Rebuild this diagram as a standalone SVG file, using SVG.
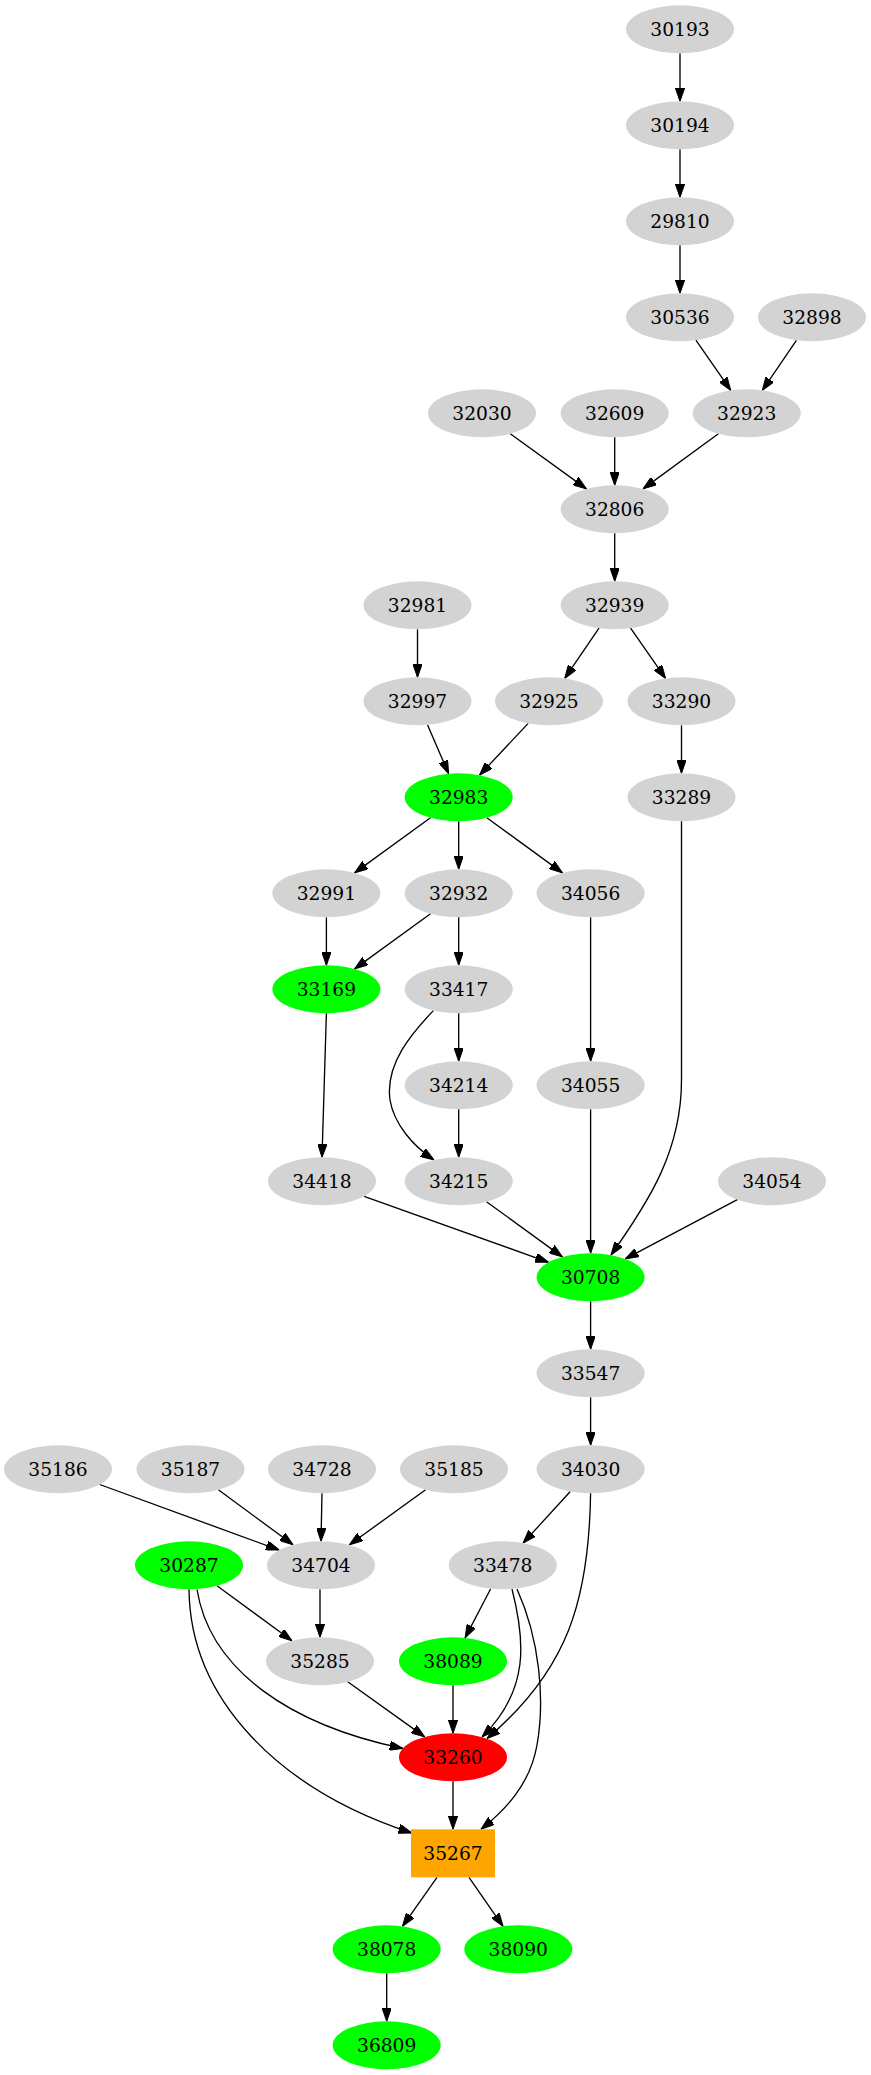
<svg xmlns="http://www.w3.org/2000/svg" width="871" height="2075" viewBox="0 0 871 2075">
<style>
.n ellipse{fill:#d3d3d3;stroke:none}
.g ellipse{fill:#00ff00}
.r ellipse{fill:#ff0000}
.o rect{fill:#ffa500;stroke:none}
text{font-family:"DejaVu Serif","Liberation Serif",serif;font-size:18.67px;text-anchor:middle;fill:#000}
#edges path{fill:none;stroke:#000;stroke-width:1.33;marker-end:url(#ah)}
</style>
<defs>
<marker id="ah" viewBox="0 0 13.3 9.33" refX="13.3" refY="4.67" markerWidth="13.3" markerHeight="9.33" markerUnits="userSpaceOnUse" orient="auto">
<path d="M0,0 L13.3,4.67 L0,9.33 z" fill="#000" stroke="#000" stroke-width="1"/>
</marker>
</defs>
<rect width="871" height="2075" fill="#fff"/>
<g id="edges">
<path d="M680,53.3 L680,101.3"/>
<path d="M680,149.3 L680,197.3"/>
<path d="M680,245.3 L680,293.3"/>
<path d="M695.9,340.2 L730.8,390.4"/>
<path d="M796.4,340.3 L762.3,390.4"/>
<path d="M510.3,433.7 L586.4,488.9"/>
<path d="M614.7,437.3 L614.7,485.3"/>
<path d="M718.4,433.7 L643,488.9"/>
<path d="M614.7,533.3 L614.7,581.3"/>
<path d="M417.5,629.3 L417.5,677.3"/>
<path d="M599,628.2 L564.7,678.4"/>
<path d="M630.6,628.2 L665.6,678.4"/>
<path d="M427.6,724.9 L448.6,773.7"/>
<path d="M528.2,723.4 L479.5,775.2"/>
<path d="M681.5,725.3 L681.5,773.3"/>
<path d="M430.5,817.7 L354.6,872.9"/>
<path d="M458.7,821.3 L458.7,869.3"/>
<path d="M486.8,817.7 L562.5,872.9"/>
<path d="M326.4,917.3 L326.4,965.3"/>
<path d="M430.5,913.7 L354.6,968.9"/>
<path d="M458.7,917.3 L458.7,965.3"/>
<path d="M590.6,917.3 L590.6,1061.3"/>
<path d="M326.4,1013.3 L322,1157.3"/>
<path d="M458.7,1013.3 L458.7,1061.3"/>
<path d="M433.4,1010.6 C412,1033 385,1064 390,1100 C394,1124 413,1146 434,1160"/>
<path d="M458.7,1109.3 L458.7,1157.3"/>
<path d="M590.6,1109.3 L590.6,1253.3"/>
<path d="M681.5,821.3 L681.5,1080 C681.5,1150 650,1200 611,1255"/>
<path d="M364.1,1196.3 L548.5,1262.3"/>
<path d="M486.5,1201.7 L562.4,1256.9"/>
<path d="M737.3,1199.7 L625.3,1258.9"/>
<path d="M590.6,1301.3 L590.6,1349.3"/>
<path d="M590.6,1397.3 L590.6,1445.3"/>
<path d="M99.7,1484.5 L279.3,1550.1"/>
<path d="M218.4,1489.8 L293.1,1544.8"/>
<path d="M322,1493.3 L321,1541.3"/>
<path d="M425.6,1489.8 L349.4,1544.8"/>
<path d="M570.3,1491.5 L523.1,1543.1"/>
<path d="M590.6,1493.3 C589,1600 568,1670 487,1738.5"/>
<path d="M490.7,1588.7 L465.1,1637.9"/>
<path d="M512,1589 C525,1640 530,1690 482,1737"/>
<path d="M517,1589 C540,1640 545,1700 537,1745 C530,1785 505,1810 481,1829.3"/>
<path d="M453,1685.3 L453,1733.3"/>
<path d="M347.7,1681.7 L424.7,1736.9"/>
<path d="M320,1589.3 L320,1637.3"/>
<path d="M217,1585.8 L292,1640.8"/>
<path d="M197,1589.5 C210,1670 290,1725 403,1748.5"/>
<path d="M189,1589.3 C190,1700 280,1790 411.7,1833"/>
<path d="M453,1781.3 L453,1829.3"/>
<path d="M437,1877.3 L402.5,1926.3"/>
<path d="M469,1877.3 L503,1926.3"/>
<path d="M386.7,1973.3 L386.7,2021.3"/>
</g>
<g id="n30193" class="n"><ellipse cx="680" cy="29.3" rx="54" ry="24"/><text x="680" y="35.8">30193</text></g>
<g id="n30194" class="n"><ellipse cx="680" cy="125.3" rx="54" ry="24"/><text x="680" y="131.8">30194</text></g>
<g id="n29810" class="n"><ellipse cx="680" cy="221.3" rx="54" ry="24"/><text x="680" y="227.8">29810</text></g>
<g id="n30536" class="n"><ellipse cx="680" cy="317.3" rx="54" ry="24"/><text x="680" y="323.8">30536</text></g>
<g id="n32898" class="n"><ellipse cx="812" cy="317.3" rx="54" ry="24"/><text x="812" y="323.8">32898</text></g>
<g id="n32030" class="n"><ellipse cx="482" cy="413.3" rx="54" ry="24"/><text x="482" y="419.8">32030</text></g>
<g id="n32609" class="n"><ellipse cx="614.7" cy="413.3" rx="54" ry="24"/><text x="614.7" y="419.8">32609</text></g>
<g id="n32923" class="n"><ellipse cx="746.7" cy="413.3" rx="54" ry="24"/><text x="746.7" y="419.8">32923</text></g>
<g id="n32806" class="n"><ellipse cx="614.7" cy="509.3" rx="54" ry="24"/><text x="614.7" y="515.8">32806</text></g>
<g id="n32981" class="n"><ellipse cx="417.5" cy="605.3" rx="54" ry="24"/><text x="417.5" y="611.8">32981</text></g>
<g id="n32939" class="n"><ellipse cx="614.7" cy="605.3" rx="54" ry="24"/><text x="614.7" y="611.8">32939</text></g>
<g id="n32997" class="n"><ellipse cx="417.5" cy="701.3" rx="54" ry="24"/><text x="417.5" y="707.8">32997</text></g>
<g id="n32925" class="n"><ellipse cx="549" cy="701.3" rx="54" ry="24"/><text x="549" y="707.8">32925</text></g>
<g id="n33290" class="n"><ellipse cx="681.5" cy="701.3" rx="54" ry="24"/><text x="681.5" y="707.8">33290</text></g>
<g id="n32983" class="n g"><ellipse cx="458.7" cy="797.3" rx="54" ry="24"/><text x="458.7" y="803.8">32983</text></g>
<g id="n33289" class="n"><ellipse cx="681.5" cy="797.3" rx="54" ry="24"/><text x="681.5" y="803.8">33289</text></g>
<g id="n32991" class="n"><ellipse cx="326.4" cy="893.3" rx="54" ry="24"/><text x="326.4" y="899.8">32991</text></g>
<g id="n32932" class="n"><ellipse cx="458.7" cy="893.3" rx="54" ry="24"/><text x="458.7" y="899.8">32932</text></g>
<g id="n34056" class="n"><ellipse cx="590.6" cy="893.3" rx="54" ry="24"/><text x="590.6" y="899.8">34056</text></g>
<g id="n33169" class="n g"><ellipse cx="326.4" cy="989.3" rx="54" ry="24"/><text x="326.4" y="995.8">33169</text></g>
<g id="n33417" class="n"><ellipse cx="458.7" cy="989.3" rx="54" ry="24"/><text x="458.7" y="995.8">33417</text></g>
<g id="n34214" class="n"><ellipse cx="458.7" cy="1085.3" rx="54" ry="24"/><text x="458.7" y="1091.8">34214</text></g>
<g id="n34055" class="n"><ellipse cx="590.6" cy="1085.3" rx="54" ry="24"/><text x="590.6" y="1091.8">34055</text></g>
<g id="n34418" class="n"><ellipse cx="322" cy="1181.3" rx="54" ry="24"/><text x="322" y="1187.8">34418</text></g>
<g id="n34215" class="n"><ellipse cx="458.7" cy="1181.3" rx="54" ry="24"/><text x="458.7" y="1187.8">34215</text></g>
<g id="n34054" class="n"><ellipse cx="772" cy="1181.3" rx="54" ry="24"/><text x="772" y="1187.8">34054</text></g>
<g id="n30708" class="n g"><ellipse cx="590.6" cy="1277.3" rx="54" ry="24"/><text x="590.6" y="1283.8">30708</text></g>
<g id="n33547" class="n"><ellipse cx="590.6" cy="1373.3" rx="54" ry="24"/><text x="590.6" y="1379.8">33547</text></g>
<g id="n35186" class="n"><ellipse cx="58" cy="1469.3" rx="54" ry="24"/><text x="58" y="1475.8">35186</text></g>
<g id="n35187" class="n"><ellipse cx="190.5" cy="1469.3" rx="54" ry="24"/><text x="190.5" y="1475.8">35187</text></g>
<g id="n34728" class="n"><ellipse cx="322" cy="1469.3" rx="54" ry="24"/><text x="322" y="1475.8">34728</text></g>
<g id="n35185" class="n"><ellipse cx="454" cy="1469.3" rx="54" ry="24"/><text x="454" y="1475.8">35185</text></g>
<g id="n34030" class="n"><ellipse cx="590.6" cy="1469.3" rx="54" ry="24"/><text x="590.6" y="1475.8">34030</text></g>
<g id="n30287" class="n g"><ellipse cx="189" cy="1565.3" rx="54" ry="24"/><text x="189" y="1571.8">30287</text></g>
<g id="n34704" class="n"><ellipse cx="321" cy="1565.3" rx="54" ry="24"/><text x="321" y="1571.8">34704</text></g>
<g id="n33478" class="n"><ellipse cx="502.8" cy="1565.3" rx="54" ry="24"/><text x="502.8" y="1571.8">33478</text></g>
<g id="n35285" class="n"><ellipse cx="320" cy="1661.3" rx="54" ry="24"/><text x="320" y="1667.8">35285</text></g>
<g id="n38089" class="n g"><ellipse cx="453" cy="1661.3" rx="54" ry="24"/><text x="453" y="1667.8">38089</text></g>
<g id="n33260" class="n r"><ellipse cx="453" cy="1757.3" rx="54" ry="24"/><text x="453" y="1763.8">33260</text></g>
<g id="n35267" class="o"><rect x="411" y="1829.3" width="84" height="48"/><text x="453" y="1859.8">35267</text></g>
<g id="n38078" class="n g"><ellipse cx="386.7" cy="1949.3" rx="54" ry="24"/><text x="386.7" y="1955.8">38078</text></g>
<g id="n38090" class="n g"><ellipse cx="518.3" cy="1949.3" rx="54" ry="24"/><text x="518.3" y="1955.8">38090</text></g>
<g id="n36809" class="n g"><ellipse cx="386.7" cy="2045.3" rx="54" ry="24"/><text x="386.7" y="2051.8">36809</text></g>
</svg>
